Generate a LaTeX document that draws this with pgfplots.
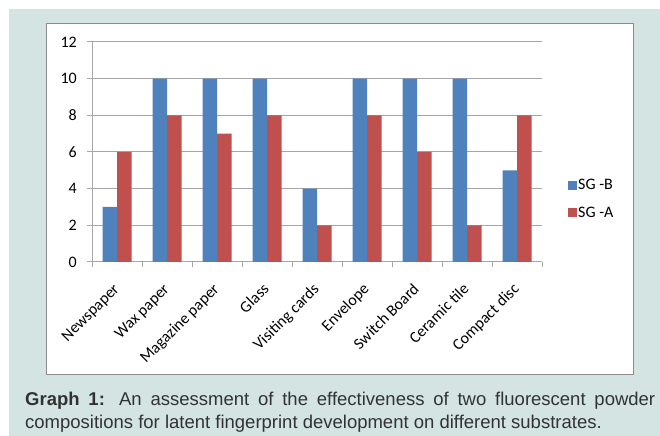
\documentclass[border=0pt]{standalone}
\usepackage{pgfplots}
\pgfplotsset{compat=1.18}
\usepackage{fontspec}
\setmainfont{Carlito}
\newfontfamily\capfont{Liberation Sans}
\hyphenpenalty=10000
\exhyphenpenalty=10000
\definecolor{bgteal}{RGB}{211,228,227}
\definecolor{sgb}{RGB}{79,129,189}
\definecolor{sga}{RGB}{192,80,77}
\definecolor{gridgray}{RGB}{166,166,166}
\definecolor{boxgray}{RGB}{140,140,140}
\definecolor{captxt}{RGB}{50,50,50}
\begin{document}
\begin{tikzpicture}[x=1bp,y=1bp]
\useasboundingbox (0,0) rectangle (660,436);
\fill[white] (0,0) rectangle (660,436);
\fill[bgteal] (9,0) rectangle (660,427);
\filldraw[fill=white, draw=boxgray, line width=1bp] (46,61) rectangle (633,412);
\begin{axis}[
  at={(92bp,174bp)}, anchor=south west,
  scale only axis, width=450bp, height=220bp,
  xmin=-0.5, xmax=8.5, ymin=0, ymax=12,
  ytick={0,2,...,12},
  xtick={0,...,8},
  xticklabels={Newspaper, Wax paper, Magazine paper, Glass, Visiting cards, Envelope, Switch Board, Ceramic tile, Compact disc},
  minor xtick={-0.5,0.5,...,8.5},
  major x tick style={draw=none},
  minor x tick style={gridgray, line width=1bp},
  y tick style={gridgray, line width=1bp},
  tick align=outside,
  major tick length=5bp, minor tick length=5bp,
  axis x line*=bottom, axis y line*=left,
  axis line style={gridgray, line width=1bp},
  ymajorgrids, grid style={gridgray, line width=1bp},
  ybar=0pt, bar width=14.5bp,
  /pgf/number format/assume math mode=true,
  tick label style={font=\fontsize{16bp}{18bp}\selectfont, text=black},
  xticklabel style={xshift=3bp, yshift=-23bp, rotate=45, anchor=base east, inner sep=0bp},
  yticklabel style={inner sep=0bp, xshift=-10bp},
  legend style={draw=none, fill=none, at={(1.0578,0.2864)}, anchor=west, inner sep=0pt, row sep=14bp,
    font=\fontsize{16bp}{18bp}\selectfont, nodes={inner sep=1bp}},
  legend cell align=left,
  clip=false,
]
\addplot[fill=sgb, draw=none, legend image code/.code={\fill[sgb] (0bp,-4.5bp) rectangle (9bp,4.5bp);}]
  coordinates {(0,3) (1,10) (2,10) (3,10) (4,4) (5,10) (6,10) (7,10) (8,5)};
\addplot[fill=sga, draw=none, legend image code/.code={\fill[sga] (0bp,-4.5bp) rectangle (9bp,4.5bp);}]
  coordinates {(0,6) (1,8) (2,7) (3,8) (4,2) (5,8) (6,6) (7,2) (8,8)};
\legend{SG -B, SG -A}
\end{axis}
\node[anchor=north west, inner sep=0pt, text width=630bp, align=justify,
  font=\capfont\fontsize{18.5bp}{23bp}\selectfont, text=captxt] at (25,44)
  {\textbf{Graph 1:} An assessment of the effectiveness of two fluorescent powder \mbox{compositions} for latent fingerprint development on different substrates.};
\end{tikzpicture}
\end{document}
